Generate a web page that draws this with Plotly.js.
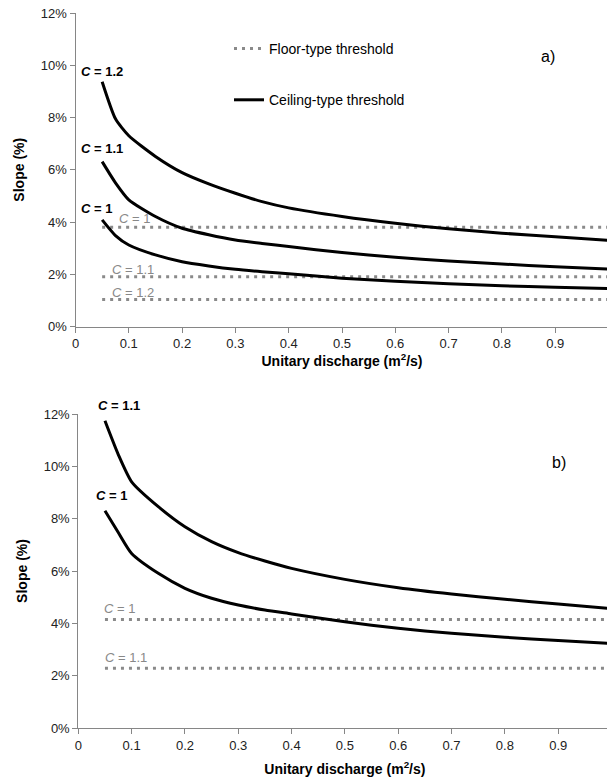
<!DOCTYPE html>
<html>
<head>
<meta charset="utf-8">
<script src="https://cdn.plot.ly/plotly-3.0.1.min.js"></script>
<style>
  html, body { margin: 0; padding: 0; overflow: hidden; background: #fff; }
  #chart { width: 612px; height: 780px; }
</style>
</head>
<body>
<div id="chart"></div>
<script>
// ---- Data (slope in %) ----
const discharge = [0.05, 0.075, 0.1, 0.15, 0.2, 0.25, 0.3, 0.35, 0.4, 0.5, 0.6, 0.7, 0.8, 0.9, 1.0];

// Panel a) ceiling-type thresholds
const ceilA_C12 = [9.37, 7.95, 7.30, 6.51, 5.89, 5.46, 5.10, 4.78, 4.54, 4.21, 3.95, 3.74, 3.57, 3.44, 3.30];
const ceilA_C11 = [6.31, 5.50, 4.85, 4.21, 3.76, 3.51, 3.31, 3.18, 3.06, 2.83, 2.65, 2.51, 2.39, 2.29, 2.20];
const ceilA_C1  = [4.08, 3.48, 3.12, 2.74, 2.48, 2.32, 2.19, 2.10, 2.02, 1.85, 1.73, 1.64, 1.56, 1.50, 1.45];

// Panel a) floor-type thresholds
const floorX = [0.05, 1.0];
const floorA_levels = [3.8, 1.9, 1.03];
const floorA_names = ['C = 1', 'C = 1.1', 'C = 1.2'];

// Panel b) ceiling-type thresholds
const ceilB_C11 = [11.74, 10.45, 9.41, 8.46, 7.69, 7.12, 6.70, 6.38, 6.10, 5.68, 5.36, 5.12, 4.92, 4.74, 4.56];
const ceilB_C1  = [8.30, 7.47, 6.67, 5.91, 5.34, 4.96, 4.70, 4.51, 4.36, 4.06, 3.81, 3.62, 3.47, 3.34, 3.23];

// Panel b) floor-type thresholds
const floorB_levels = [4.15, 2.28];
const floorB_names = ['C = 1', 'C = 1.1'];

// Tick labels
const yTicks = [0, 2, 4, 6, 8, 10, 12];
const yTickText = ['0%', '2%', '4%', '6%', '8%', '10%', '12%'];
const xTicks = [0, 0.1, 0.2, 0.3, 0.4, 0.5, 0.6, 0.7, 0.8, 0.9, 1];
const xTickText = ['0', '0.1', '0.2', '0.3', '0.4', '0.5', '0.6', '0.7', '0.8', '0.9', '1'];

// ---- Styles ----
const FONT = 'Liberation Sans, Arial, Helvetica, sans-serif';
const GRAY_DOT = '#8a8a8a';
const solid = { color: '#000', width: 3, shape: 'spline', smoothing: 0.6 };
const dotted = { color: GRAY_DOT, width: 3, dash: '3px,5px' };

const traces = [];
function floorTrace(level, name, xa, ya, show) {
  return { x: floorX, y: [level, level], xaxis: xa, yaxis: ya, mode: 'lines',
    line: dotted, name: 'Floor-type threshold', legendgroup: 'floor',
    showlegend: show, hoverinfo: 'skip', meta: name };
}
function ceilTrace(vals, name, xa, ya, show) {
  return { x: discharge, y: vals, xaxis: xa, yaxis: ya, mode: 'lines',
    line: solid, name: 'Ceiling-type threshold', legendgroup: 'ceil',
    showlegend: show, hoverinfo: 'skip', meta: name };
}
floorA_levels.forEach((v, i) => traces.push(floorTrace(v, floorA_names[i], 'x', 'y', i === 0)));
traces.push(ceilTrace(ceilA_C12, 'C = 1.2', 'x', 'y', true));
traces.push(ceilTrace(ceilA_C11, 'C = 1.1', 'x', 'y', false));
traces.push(ceilTrace(ceilA_C1, 'C = 1', 'x', 'y', false));
floorB_levels.forEach((v, i) => traces.push(floorTrace(v, floorB_names[i], 'x2', 'y2', false)));
traces.push(ceilTrace(ceilB_C11, 'C = 1.1', 'x2', 'y2', false));
traces.push(ceilTrace(ceilB_C1, 'C = 1', 'x2', 'y2', false));

const W = 612, H = 780;
function xAxis(x0, x1, anchor, standoff) {
  return {
    domain: [x0 / W, x1 / W], range: [0, 1], anchor: anchor,
    tickmode: 'array', tickvals: xTicks, ticktext: xTickText,
    showgrid: false, zeroline: false, showline: true,
    linecolor: '#868686', linewidth: 1, ticks: 'outside', ticklen: 5,
    tickcolor: '#868686', tickfont: { family: FONT, size: 13, color: '#222' },
    title: { text: '<b>Unitary discharge (m<sup>2</sup>/s)</b>', standoff: standoff,
      font: { family: FONT, size: 14, color: '#000', style: 'normal' } },
    fixedrange: true
  };
}
function yAxis(top, bottom, anchor) {
  return {
    domain: [1 - bottom / H, 1 - top / H], range: [0, 12], anchor: anchor,
    tickmode: 'array', tickvals: yTicks, ticktext: yTickText,
    showgrid: false, zeroline: false, showline: true,
    linecolor: '#868686', linewidth: 1, ticks: 'outside', ticklen: 5,
    tickcolor: '#868686', tickfont: { family: FONT, size: 13, color: '#222' },
    title: { text: '<b>Slope (%)</b>', standoff: 12,
      font: { family: FONT, size: 14, color: '#000', style: 'normal' } },
    fixedrange: true
  };
}

const blackLbl = { family: FONT, size: 13, color: '#000' };
const grayLbl = { family: FONT, size: 13, color: '#888888' };
function lbl(text, x, y, xref, yref, font) {
  return { text: text, x: x, y: y, xref: xref, yref: yref, showarrow: false,
    xanchor: 'left', yanchor: 'middle', font: font };
}
const annotations = [
  // panel a
  lbl('<b><i>C</i> = 1.2</b>', 0.006, 9.75, 'x', 'y', blackLbl),
  lbl('<b><i>C</i> = 1.1</b>', 0.006, 6.8, 'x', 'y', blackLbl),
  lbl('<b><i>C</i> = 1</b>', 0.006, 4.53, 'x', 'y', blackLbl),
  lbl('<i>C</i> = 1', 0.078, 4.12, 'x', 'y', grayLbl),
  lbl('<i>C</i> = 1.1', 0.065, 2.2, 'x', 'y', grayLbl),
  lbl('<i>C</i> = 1.2', 0.065, 1.31, 'x', 'y', grayLbl),
  { text: 'a)', x: 548 / W, y: 1 - 57 / H, xref: 'paper', yref: 'paper', showarrow: false,
    xanchor: 'center', yanchor: 'middle', font: { family: FONT, size: 16, color: '#000' } },
  // panel b
  lbl('<b><i>C</i> = 1.1</b>', 0.033, 1 - 405 / H, 'x2', 'paper', blackLbl),
  lbl('<b><i>C</i> = 1</b>', 0.03, 8.9, 'x2', 'y2', blackLbl),
  lbl('<i>C</i> = 1', 0.044, 4.57, 'x2', 'y2', grayLbl),
  lbl('<i>C</i> = 1.1', 0.046, 2.69, 'x2', 'y2', grayLbl),
  { text: 'b)', x: 559 / W, y: 1 - 462 / H, xref: 'paper', yref: 'paper', showarrow: false,
    xanchor: 'center', yanchor: 'middle', font: { family: FONT, size: 16, color: '#000' } }
];

const layout = {
  width: W, height: H,
  margin: { l: 0, r: 0, t: 0, b: 0 },
  paper_bgcolor: '#fff', plot_bgcolor: 'rgba(0,0,0,0)',
  font: { family: FONT, size: 13, color: '#000' },
  xaxis: xAxis(75.5, 608.5, 'y', 1),
  yaxis: yAxis(13, 326.5, 'x'),
  xaxis2: xAxis(78.3, 611.5, 'y2', 12),
  yaxis2: yAxis(414, 728, 'x2'),
  showlegend: true,
  legend: {
    x: 229 / W, y: 1 - 33 / H, xanchor: 'left', yanchor: 'top',
    traceorder: 'grouped', tracegroupgap: 30,
    bgcolor: 'rgba(0,0,0,0)', borderwidth: 0,
    font: { family: FONT, size: 14, color: '#000', style: 'normal' }
  },
  annotations: annotations
};

Plotly.newPlot('chart', traces, layout, { staticPlot: true, displayModeBar: false });
</script>
</body>
</html>
